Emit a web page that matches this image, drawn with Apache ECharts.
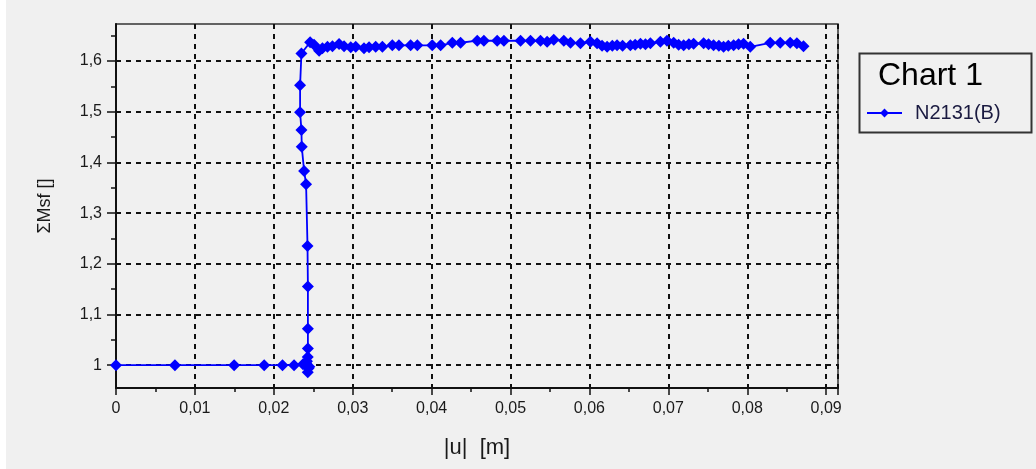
<!DOCTYPE html>
<html><head><meta charset="utf-8">
<script src="https://cdn.jsdelivr.net/npm/echarts@6/dist/echarts.min.js"></script>
<style>html,body{margin:0;padding:0;background:#fff;}#c{position:absolute;left:0;top:0;width:1036px;height:469px;}</style>
</head><body><div id="c"></div>
<script>
const chartTitle = 'Chart 1';
const seriesName = 'N2131(B)';
const xAxisName = '|u|  [m]';
const yAxisName = 'ΣMsf []';
const uValues = [0, 0.00747, 0.01497, 0.01878, 0.0211, 0.02257, 0.0237, 0.0241, 0.0244, 0.0243, 0.0245, 0.0242, 0.0243,
  0.02432, 0.02432, 0.02432, 0.02427, 0.02409, 0.02384, 0.02354, 0.0235, 0.02333, 0.02333, 0.0235, 0.0246, 0.0251,
  0.02574, 0.02616, 0.0268, 0.02743, 0.02827, 0.0289, 0.02975, 0.03038, 0.03143, 0.03207, 0.03291, 0.03376, 0.03502,
  0.03586, 0.03734, 0.03819, 0.04008, 0.04114, 0.04262, 0.04367, 0.04578, 0.04662, 0.04831, 0.04916, 0.05127, 0.05253,
  0.0538, 0.05464, 0.05548, 0.05675, 0.0576, 0.05886, 0.06013, 0.06097, 0.0616, 0.06224, 0.0629, 0.0635, 0.0642, 0.06519,
  0.0658, 0.06646, 0.0671, 0.06772, 0.06899, 0.06983, 0.07068, 0.0713, 0.07194, 0.0726, 0.0732, 0.07447, 0.0751, 0.07573,
  0.0764, 0.077, 0.0776, 0.07827, 0.0789, 0.07953, 0.08038, 0.08291, 0.08418, 0.08544, 0.08629, 0.08713];
const msfValues = [1, 1, 1, 1, 1, 1, 1.002, 1.004, 0.994, 0.986, 0.997, 1.008, 1.016,
  1.033, 1.072, 1.155, 1.235, 1.357, 1.383, 1.431, 1.464, 1.499, 1.552, 1.615, 1.637, 1.632,
  1.620, 1.625, 1.628, 1.629, 1.6335, 1.629, 1.627, 1.628, 1.625, 1.627, 1.628, 1.628, 1.631,
  1.631, 1.631, 1.631, 1.631, 1.631, 1.636, 1.636, 1.640, 1.640, 1.640, 1.640, 1.640, 1.640,
  1.640, 1.638, 1.642, 1.640, 1.636, 1.635, 1.638, 1.635, 1.630, 1.628, 1.630, 1.631, 1.630, 1.631,
  1.632, 1.634, 1.633, 1.635, 1.638, 1.640, 1.636, 1.632, 1.631, 1.633, 1.634, 1.635, 1.633, 1.631,
  1.630, 1.628, 1.630, 1.631, 1.633, 1.634, 1.628, 1.636, 1.636, 1.636, 1.635, 1.629];
const yMajorTicks = [1, 1.1, 1.2, 1.3, 1.4, 1.5, 1.6];
const yMinorTicks = [1.05, 1.15, 1.25, 1.35, 1.45, 1.55, 1.65];

const fmt = v => String(+(+v).toFixed(4)).replace('.', ',');
const data = uValues.map((u, i) => [u, msfValues[i]]);
const chart = echarts.init(document.getElementById('c'), null, {renderer: 'canvas'});
const labelFont = {fontFamily: 'Liberation Sans', fontSize: 16, color: '#1a1a1a'};
const dashed = {show: true, lineStyle: {color: '#111', type: [5, 5], width: 2}};
chart.setOption({
  backgroundColor: '#f0f0f0',
  animation: false,
  textStyle: {fontFamily: 'Liberation Sans'},
  graphic: [
    {type: 'rect', left: 0, top: 0, shape: {width: 6, height: 469}, style: {fill: '#fff'}},
    {type: 'rect', left: 857, top: 51, shape: {width: 172, height: 79}, style: {fill: 'none', stroke: '#333', lineWidth: 2}}
  ],
  title: {text: chartTitle, left: 878, top: 60, padding: 0, textStyle: {fontFamily: 'Liberation Sans', fontSize: 32, fontWeight: 'normal', color: '#000'}},
  legend: {data: [seriesName], left: 866, top: 103, padding: 0, itemWidth: 35, itemHeight: 11, itemGap: 0,
    textStyle: {fontFamily: 'Liberation Sans', fontSize: 20, color: '#1a1a40', padding: [0, 0, 0, 8]}},
  grid: {left: 116, right: 198, top: 24, bottom: 81, show: true, borderColor: '#333', borderWidth: 1.5, backgroundColor: 'transparent'},
  xAxis: {type: 'value', min: 0, max: 0.0915, interval: 0.01,
    name: xAxisName, nameLocation: 'middle', nameGap: 49, nameTextStyle: {fontFamily: 'Liberation Sans', fontSize: 22, color: '#1a1a1a'},
    axisLine: {show: true, lineStyle: {color: '#111', width: 2}},
    axisTick: {show: true, length: 7, lineStyle: {color: '#111', width: 1.5}},
    minorTick: {show: true, splitNumber: 2, length: 4, lineStyle: {color: '#111', width: 1.5}},
    axisLabel: Object.assign({formatter: fmt, margin: 13, showMaxLabel: false}, labelFont),
    splitLine: dashed},
  yAxis: [
    {type: 'value', min: 0.955, max: 1.673, position: 'left',
      name: yAxisName, nameLocation: 'middle', nameGap: 62, nameTextStyle: {fontFamily: 'Liberation Sans', fontSize: 18, color: '#1a1a1a'},
      axisLine: {show: true, lineStyle: {color: '#111', width: 2}},
      axisTick: {show: true, length: 9, customValues: yMajorTicks, lineStyle: {color: '#111', width: 1.5}},
      axisLabel: Object.assign({formatter: fmt, margin: 14, customValues: yMajorTicks}, labelFont),
      splitLine: dashed},
    {type: 'value', min: 0.955, max: 1.673, position: 'left', offset: 0,
      axisLine: {show: false},
      axisTick: {show: true, length: 5, customValues: yMinorTicks, lineStyle: {color: '#111', width: 1.5}},
      axisLabel: {show: false, customValues: yMinorTicks},
      splitLine: {show: false}}
  ],
  series: [{name: seriesName, type: 'line', yAxisIndex: 0, data: data, symbol: 'diamond', symbolSize: 12,
    showAllSymbol: true, lineStyle: {color: '#0000ff', width: 1.8}, itemStyle: {color: '#0000ff'}, z: 5}]
});
</script></body></html>
